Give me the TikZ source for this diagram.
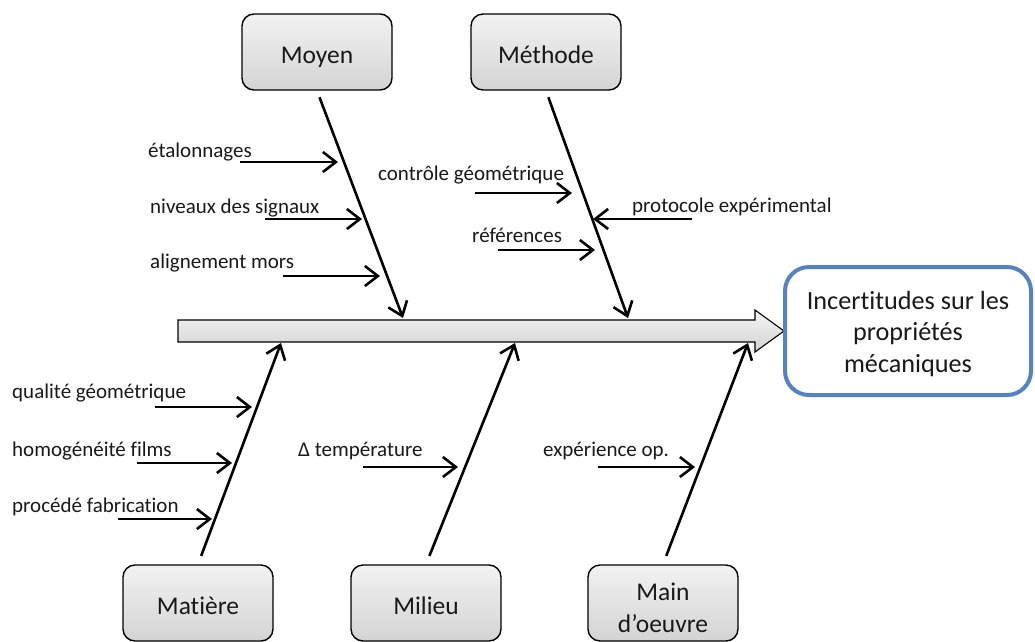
\documentclass[tikz,border=0pt]{standalone}
\usepackage{fontspec}
\setmainfont{Carlito}[Ligatures={NoCommon}]
\usetikzlibrary{arrows.meta}
\definecolor{resblue}{RGB}{84,130,196}
\definecolor{txt}{RGB}{25,25,25}
\begin{document}
\begin{tikzpicture}[x=1pt,y=-1pt,
  catbox/.style={draw=black, line width=1.4pt, rounded corners=12pt, top color=gray!10, bottom color=gray!34,
    minimum width=150pt, minimum height=76pt, font=\fontsize{25.5}{32}\selectfont, align=center, inner sep=0pt, text=txt,
    text height=22pt, text depth=0pt},
  boxtext/.style={font=\fontsize{25.5}{32}\selectfont, align=center, inner sep=0pt, text=txt},
  bone/.style={line width=2.6pt, line join=miter, -{Straight Barb[length=13pt,width=20pt]}},
  rib/.style={line width=2.6pt, line join=miter, -{Straight Barb[length=13pt,width=20pt]}},
  lbl/.style={anchor=base west, inner sep=0pt, font=\fontsize{21}{25}\selectfont, text=txt}
]
\useasboundingbox (0,0) rectangle (1035,641);

% main spine arrow
\shade[top color=gray!8, bottom color=gray!35, draw=black, line width=1.1pt, line join=miter]
  (178,320) -- (755,320) -- (755,310) -- (784,331) -- (755,352) -- (755,342) -- (178,342) -- cycle;

% result box
\node[draw=resblue, line width=4pt, rounded corners=24pt, minimum width=246pt, minimum height=128pt,
  fill=white, inner sep=0pt] (res) at (908,331) {};
\node[boxtext, font=\fontsize{26.2}{31.5}\selectfont] (restext) at (908,334) {Incertitudes sur les\\propriétés\\mécaniques};

% category boxes
\node[catbox] (moyen) at (317,52) {Moyen};
\node[catbox] (methode) at (546,52) {Méthode};
\node[catbox] (matiere) at (198,603) {Matière};
\node[catbox] (milieu) at (426,603) {Milieu};
\node[catbox] (main) at (663,603) {};
\node[boxtext] (maintext) at (663,608) {Main\\d’oeuvre};

% bone end points on the spine
\coordinate (tmoyen) at (403,318);
\coordinate (tmethode) at (628,318);
\coordinate (tmatiere) at (281,343);
\coordinate (tmilieu) at (515,343);
\coordinate (tmain) at (748,343);

\draw[bone, shorten <=7pt] (moyen.south) -- (tmoyen);
\draw[bone, shorten <=7pt] (methode.south) -- (tmethode);
\draw[bone, shorten <=9pt] (matiere.north) -- (tmatiere);
\draw[bone, shorten <=9pt] (milieu.north) -- (tmilieu);
\draw[bone, shorten <=9pt] (main.north) -- (tmain);

% labels
\node[lbl] (l1) at (148,157) {étalonnages};
\node[lbl] (l2) at (150,213) {niveaux des signaux};
\node[lbl] (l3) at (150,268) {alignement mors};
\node[lbl] (l4) at (378,180) {contrôle géométrique};
\node[lbl] (l5) at (632,212) {protocole expérimental};
\node[lbl] (l6) at (472,242) {références};
\node[lbl] (l7) at (12,398) {qualité géométrique};
\node[lbl] (l8) at (12,456) {homogénéité films};
\node[lbl] (l9) at (12,512) {procédé fabrication};
\node[lbl] (l10) at (298,456) {Δ température};
\node[lbl] (l11) at (543,456) {expérience op.};

% rib arrows
\coordinate (a1) at (240,162); \coordinate (b1) at (338,162);
\coordinate (a2) at (265,219); \coordinate (b2) at (362,219);
\coordinate (a3) at (283,276); \coordinate (b3) at (380,276);
\coordinate (a4) at (475,193); \coordinate (b4) at (572,193);
\coordinate (a5) at (692,219); \coordinate (b5) at (593,219);
\coordinate (a6) at (498,250); \coordinate (b6) at (595,250);
\coordinate (a7) at (155,407); \coordinate (b7) at (252,407);
\coordinate (a8) at (137,463); \coordinate (b8) at (232,463);
\coordinate (a9) at (118,519); \coordinate (b9) at (212,519);
\coordinate (a10) at (363,467); \coordinate (b10) at (458,467);
\coordinate (a11) at (598,467); \coordinate (b11) at (695,467);
\foreach \i in {1,...,11} { \draw[rib] (a\i) -- (b\i); }
\end{tikzpicture}
\end{document}
